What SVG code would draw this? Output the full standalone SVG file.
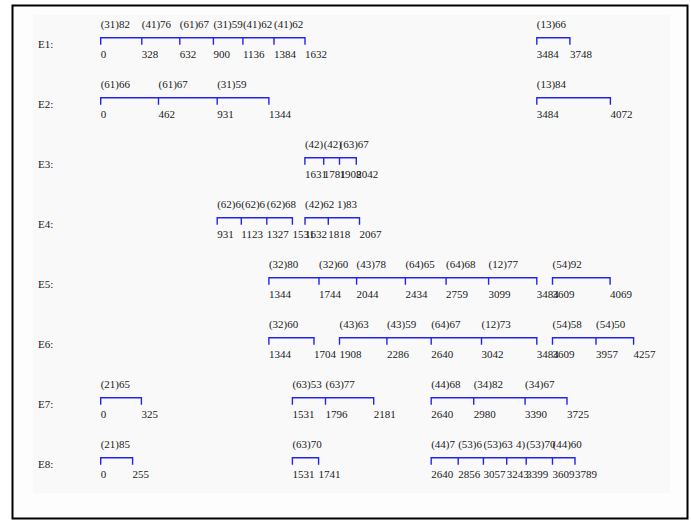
<svg xmlns="http://www.w3.org/2000/svg" width="691" height="521" viewBox="0 0 691 521">
<style>
text{font-family:"Liberation Serif","Times New Roman",serif;font-size:11px;fill:#1a1a1a}
.br{fill:none;stroke:#2424f0;stroke-width:1.4}
</style>
<rect x="0" y="0" width="691" height="521" fill="#ffffff"/>
<rect x="12.5" y="5.5" width="675" height="513" fill="#fdfdfd" stroke="#000" stroke-width="2"/>
<rect x="33" y="15" width="637" height="478" fill="#f9f9f9"/>
<g id="connectors">
<path class="br" d="M100.7 44.7V37.7H305V44.7M141.8 37.7v7M179.8 37.7v7M213.4 37.7v7M242.9 37.7v7M274 37.7v7"/>
<path class="br" d="M536.8 44.7V37.7H569.9V44.7"/>
<path class="br" d="M100.7 104.7V97.7H268.9V104.7M158.5 97.7v7M217.2 97.7v7"/>
<path class="br" d="M536.8 104.7V97.7H610.4V104.7"/>
<path class="br" d="M304.9 164.7V157.7H356.3V164.7M323.7 157.7v7M339.5 157.7v7"/>
<path class="br" d="M217.2 224.7V217.7H292.4V224.7M241.3 217.7v7M266.8 217.7v7"/>
<path class="br" d="M305 224.7V217.7H359.5V224.7M328.3 217.7v7"/>
<path class="br" d="M268.9 284.7V277.7H536.8V284.7M319 277.7v7M356.6 277.7v7M405.4 277.7v7M446.1 277.7v7M488.6 277.7v7"/>
<path class="br" d="M552.5 284.7V277.7H610.1V284.7"/>
<path class="br" d="M268.9 344.7V337.7H314V344.7"/>
<path class="br" d="M339.5 344.7V337.7H536.8V344.7M386.9 337.7v7M431.2 337.7v7M481.5 337.7v7"/>
<path class="br" d="M552.5 344.7V337.7H633.6V344.7M596 337.7v7"/>
<path class="br" d="M100.7 404.7V397.7H141.4V404.7"/>
<path class="br" d="M292.4 404.7V397.7H373.7V404.7M325.5 397.7v7"/>
<path class="br" d="M431.2 404.7V397.7H567V404.7M473.7 397.7v7M525.1 397.7v7"/>
<path class="br" d="M100.7 464.7V457.7H132.6V464.7"/>
<path class="br" d="M292.4 464.7V457.7H318.6V464.7"/>
<path class="br" d="M431.2 464.7V457.7H575V464.7M458.2 457.7v7M483.4 457.7v7M506.7 457.7v7M526.2 457.7v7M552.5 457.7v7"/>
</g>
<g id="E1">
<text x="38" y="48.3">E1:</text>
<text x="100.7" y="28.3">(31)82</text><text x="141.8" y="28.3">(41)76</text><text x="179.8" y="28.3">(61)67</text><text x="213.4" y="28.3">(31)59</text><text x="242.9" y="28.3">(41)62</text><text x="274" y="28.3">(41)62</text><text x="536.8" y="28.3">(13)66</text>
<text x="100.7" y="58">0</text><text x="141.8" y="58">328</text><text x="179.8" y="58">632</text><text x="213.4" y="58">900</text><text x="242.9" y="58">1136</text><text x="274" y="58">1384</text><text x="305" y="58">1632</text><text x="536.8" y="58">3484</text><text x="569.9" y="58">3748</text>
</g>
<g id="E2">
<text x="38" y="108.3">E2:</text>
<text x="100.7" y="88.3">(61)66</text><text x="158.5" y="88.3">(61)67</text><text x="217.2" y="88.3">(31)59</text><text x="536.8" y="88.3">(13)84</text>
<text x="100.7" y="118">0</text><text x="158.5" y="118">462</text><text x="217.2" y="118">931</text><text x="268.9" y="118">1344</text><text x="536.8" y="118">3484</text><text x="610.4" y="118">4072</text>
</g>
<g id="E3">
<text x="38" y="168.3">E3:</text>
<text x="304.9" y="148.3">(42)</text><text x="323.7" y="148.3">(42)</text><text x="339.5" y="148.3">(63)67</text>
<text x="304.9" y="178">1631</text><text x="323.7" y="178">1781</text><text x="339.5" y="178">1908</text><text x="356.3" y="178">2042</text>
</g>
<g id="E4">
<text x="38" y="228.3">E4:</text>
<text x="217.2" y="208.3">(62)6</text><text x="241.3" y="208.3">(62)6</text><text x="266.8" y="208.3">(62)68</text><text x="305" y="208.3">(42)62</text><text x="336.9" y="208.3">1)83</text>
<text x="217.2" y="238">931</text><text x="241.3" y="238">1123</text><text x="266.8" y="238">1327</text><text x="292.4" y="238">1531</text><text x="305" y="238">1632</text><text x="328.3" y="238">1818</text><text x="359.5" y="238">2067</text>
</g>
<g id="E5">
<text x="38" y="288.3">E5:</text>
<text x="268.9" y="268.3">(32)80</text><text x="319" y="268.3">(32)60</text><text x="356.6" y="268.3">(43)78</text><text x="405.4" y="268.3">(64)65</text><text x="446.1" y="268.3">(64)68</text><text x="488.6" y="268.3">(12)77</text><text x="552.5" y="268.3">(54)92</text>
<text x="268.9" y="298">1344</text><text x="319" y="298">1744</text><text x="356.6" y="298">2044</text><text x="405.4" y="298">2434</text><text x="446.1" y="298">2759</text><text x="488.6" y="298">3099</text><text x="536.8" y="298">3484</text><text x="552.5" y="298">3609</text><text x="610.1" y="298">4069</text>
</g>
<g id="E6">
<text x="38" y="348.3">E6:</text>
<text x="268.9" y="328.3">(32)60</text><text x="339.5" y="328.3">(43)63</text><text x="386.9" y="328.3">(43)59</text><text x="431.2" y="328.3">(64)67</text><text x="481.5" y="328.3">(12)73</text><text x="552.5" y="328.3">(54)58</text><text x="596" y="328.3">(54)50</text>
<text x="268.9" y="358">1344</text><text x="314" y="358">1704</text><text x="339.5" y="358">1908</text><text x="386.9" y="358">2286</text><text x="431.2" y="358">2640</text><text x="481.5" y="358">3042</text><text x="536.8" y="358">3484</text><text x="552.5" y="358">3609</text><text x="596" y="358">3957</text><text x="633.6" y="358">4257</text>
</g>
<g id="E7">
<text x="38" y="408.3">E7:</text>
<text x="100.7" y="388.3">(21)65</text><text x="292.4" y="388.3">(63)53</text><text x="325.5" y="388.3">(63)77</text><text x="431.2" y="388.3">(44)68</text><text x="473.7" y="388.3">(34)82</text><text x="525.1" y="388.3">(34)67</text>
<text x="100.7" y="418">0</text><text x="141.4" y="418">325</text><text x="292.4" y="418">1531</text><text x="325.5" y="418">1796</text><text x="373.7" y="418">2181</text><text x="431.2" y="418">2640</text><text x="473.7" y="418">2980</text><text x="525.1" y="418">3390</text><text x="567" y="418">3725</text>
</g>
<g id="E8">
<text x="38" y="468.3">E8:</text>
<text x="100.7" y="448.3">(21)85</text><text x="292.4" y="448.3">(63)70</text><text x="431.2" y="448.3">(44)7</text><text x="458.2" y="448.3">(53)6</text><text x="483.4" y="448.3">(53)63</text><text x="515.9" y="448.3">4)</text><text x="526.2" y="448.3">(53)70</text><text x="552.5" y="448.3">(44)60</text>
<text x="100.7" y="478">0</text><text x="132.6" y="478">255</text><text x="292.4" y="478">1531</text><text x="318.6" y="478">1741</text><text x="431.2" y="478">2640</text><text x="458.2" y="478">2856</text><text x="483.4" y="478">3057</text><text x="506.7" y="478">3243</text><text x="526.2" y="478">3399</text><text x="552.5" y="478">3609</text><text x="575" y="478">3789</text>
</g>
</svg>
